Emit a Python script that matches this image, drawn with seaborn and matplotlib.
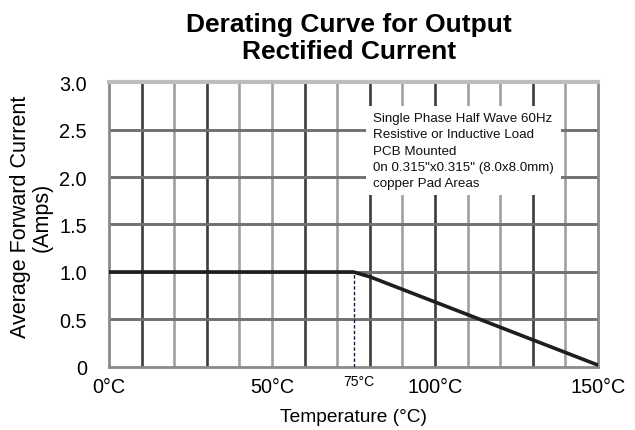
import matplotlib
matplotlib.use("Agg")
import matplotlib.pyplot as plt
import matplotlib.transforms as mtransforms
import seaborn as sns

# Derating curve values
temps = [0, 75, 80, 150]
current = [1.0, 1.0, 0.95, 0.02]

x_ticks = [0, 50, 75, 100, 150]
x_labels = ["0°C", "50°C", "75°C", "100°C", "150°C"]
y_ticks = [0, 0.5, 1.0, 1.5, 2.0, 2.5, 3.0]
y_labels = ["0", "0.5", "1.0", "1.5", "2.0", "2.5", "3.0"]

grid_x = list(range(10, 150, 10))
dark_x = [10, 30, 60, 80, 100, 130]
grid_y = [0.5, 1.0, 1.5, 2.0, 2.5]

note = ("Single Phase Half Wave 60Hz\n"
        "Resistive or Inductive Load\n"
        "PCB Mounted\n"
        "0n 0.315\"x0.315\" (8.0x8.0mm)\n"
        "copper Pad Areas")

sns.set_style("white")
plt.rcParams["font.family"] = ["Liberation Sans", "DejaVu Sans"]
plt.rcParams["text.color"] = "black"
plt.rcParams["axes.labelcolor"] = "black"
plt.rcParams["xtick.color"] = "black"
plt.rcParams["ytick.color"] = "black"

fig = plt.figure(figsize=(6.35, 4.31), dpi=100)
ax = fig.add_axes([0.1717, 0.1462, 0.77, 0.6612])

# Grid lines (scanned chart look: some darker, some lighter)
for gx in grid_x:
    c = "#3c3c3c" if gx in dark_x else "#a0a0a0"
    ax.axvline(gx, color=c, lw=1.9, zorder=1)
for gy in grid_y:
    ax.axhline(gy, color="#707070", lw=2.1, zorder=1)

sns.lineplot(x=temps, y=current, ax=ax, color="#1e1e1e", lw=2.6, zorder=4)

# dashed marker at the derating knee
ax.plot([temps[1], temps[1]], [0, current[1]], ls=(0, (2.5, 1.5)),
        color="#1a1a40", lw=1.0, zorder=3)

ax.text(81.0, 2.68, note, fontsize=9.6, va="top", ha="left", linespacing=1.45,
        color="#111111", zorder=5,
        bbox=dict(boxstyle="square,pad=0.5", facecolor="white", edgecolor="none"))

ax.set_xlim(0, 150)
ax.set_ylim(0, 3.0)
ax.set_xticks(x_ticks)
ax.set_xticklabels(x_labels, fontsize=14.3)
ax.set_yticks(y_ticks)
ax.set_yticklabels(y_labels, fontsize=14.3)
ax.tick_params(axis="x", length=0, pad=7)
ax.tick_params(axis="y", length=0, pad=16)
for lab in ax.get_xticklabels():
    if lab.get_text() == "75°C":
        lab.set_fontsize(10)
        lab.set_transform(lab.get_transform() +
                          mtransforms.ScaledTranslation(4 / 72, 2 / 72, fig.dpi_scale_trans))

for side in ["left", "right", "bottom"]:
    ax.spines[side].set_color("#8a8a8a")
    ax.spines[side].set_linewidth(2.0)
ax.spines["top"].set_color("#bdbdbd")
ax.spines["top"].set_linewidth(3.0)

ax.set_xlabel("Temperature (°C)", fontsize=13.8, labelpad=9)
ax.set_ylabel("Average Forward Current\n(Amps)", fontsize=15.5, labelpad=5,
              linespacing=1.0, y=0.53)
ax.set_title("Derating Curve for Output\nRectified Current", fontsize=19,
             fontweight="bold", pad=17, linespacing=1.2, x=0.49)

fig.savefig("out.png", dpi=100)
